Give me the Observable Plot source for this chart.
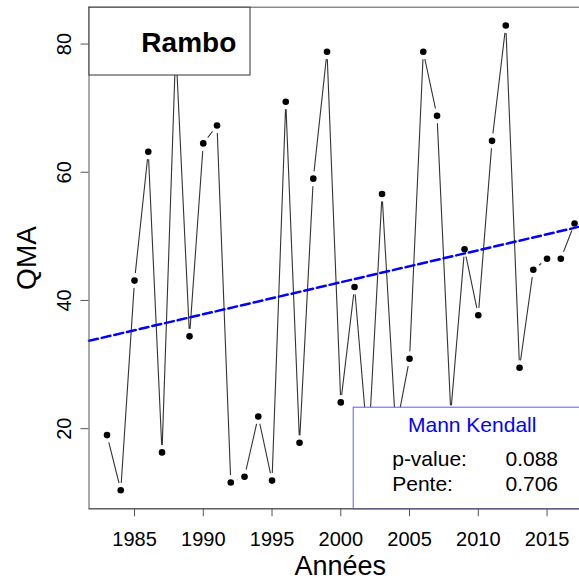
<!DOCTYPE html>
<html><head><meta charset="utf-8">
<script src="https://cdn.jsdelivr.net/npm/d3@7"></script>
<script src="https://cdn.jsdelivr.net/npm/@observablehq/plot@0.6"></script>
<style>html,body{margin:0;padding:0;background:#fff;overflow:hidden}</style>
</head><body><div id="chart"></div>
<script>
const years = [1983,1984,1985,1986,1987,1988,1989,1990,1991,1992,1993,1994,1995,1996,1997,1998,1999,2000,2001,2002,2003,2004,2005,2006,2007,2008,2009,2010,2011,2012,2013,2014,2015,2016,2017];
const qma = [19.0,10.4,43.1,63.2,16.3,79.5,34.4,64.5,67.3,11.6,12.5,21.9,11.9,71.0,17.8,59.0,78.8,24.1,42.1,16.6,56.6,19.7,30.9,78.8,68.8,22.5,48.0,37.7,64.9,82.9,29.5,44.8,46.5,46.5,52.0];
const xTicks = [1985,1990,1995,2000,2005,2010,2015];
const yTicks = [20,40,60,80];
const xLabel = "Années";
const yLabel = "QMA";
const stationName = "Rambo";
const mkTitle = "Mann Kendall";
const statNames = ["p-value:", "Pente:"];
const statValues = ["0.088", "0.706"];
const trendAt1983 = 34.36;
const trendSlope = 0.499;

const data = years.map((y, i) => ({year: y, q: qma[i]}));
const xDomain = [1981.69, 2017.36];
const yDomain = [7.5, 85.75];
const trend = xDomain.map(x => ({year: x, q: trendAt1983 + trendSlope * (x - 1983)}));
const frameColor = "#555";

const chart = Plot.plot({
  width: 579, height: 579,
  marginLeft: 88.5, marginRight: 0, marginTop: 6.7, marginBottom: 70.7,
  style: {fontFamily: "'Liberation Sans', Arial, sans-serif", background: "white", color: "black"},
  x: {domain: xDomain},
  y: {domain: yDomain},
  marks: [
    Plot.line(data, {x: "year", y: "q", stroke: "#333", strokeWidth: 1.1}),
    Plot.dot(data, {x: "year", y: "q", r: 7.5, fill: "white", stroke: "none"}),
    Plot.dot(data, {x: "year", y: "q", r: 3.3, fill: "black", stroke: "none"}),
    Plot.line(trend, {x: "year", y: "q", stroke: "blue", strokeWidth: 2.5, strokeDasharray: "9,4"}),
    Plot.ruleX([xDomain[0]], {stroke: frameColor}),
    Plot.ruleY(yDomain, {stroke: frameColor}),
    Plot.axisX({ticks: xTicks, tickSize: 8, fill: "none", stroke: frameColor, label: null}),
    Plot.axisY({ticks: yTicks, tickSize: 8, fill: "none", stroke: frameColor, label: null}),
    Plot.text(xTicks, {x: d => d, text: d => String(d), frameAnchor: "bottom", dy: 37, lineAnchor: "bottom", fontSize: 20, fill: "black"}),
    Plot.text(yTicks, {y: d => d, text: d => String(d), frameAnchor: "left", dx: -18.5, rotate: -90, textAnchor: "middle", lineAnchor: "bottom", fontSize: 20, fill: "black"}),
    Plot.text([xLabel], {text: d => d, frameAnchor: "bottom", dx: 6, dy: 65.7, lineAnchor: "bottom", fontSize: 27, fill: "black"}),
    Plot.text([yLabel], {text: d => d, frameAnchor: "left", dx: -53.5, rotate: -90, textAnchor: "middle", lineAnchor: "bottom", fontSize: 28, fill: "black"}),
    Plot.frame({fill: "white", stroke: "#333", insetRight: 329.5, insetBottom: 433.8}),
    Plot.text([stationName], {text: d => d, frameAnchor: "top-left", dx: 99.8, dy: 45, textAnchor: "middle", lineAnchor: "bottom", fontSize: 28, fontWeight: "bold", fill: "black"}),
    Plot.frame({fill: "white", stroke: "#5a5aff", insetLeft: 264.2, insetTop: 400, insetRight: -5, insetBottom: 0}),
    Plot.text([mkTitle], {text: d => d, frameAnchor: "top-left", dx: 383.2, dy: 425, textAnchor: "middle", lineAnchor: "bottom", fontSize: 21, fill: "blue"}),
    Plot.text([statNames[0]], {text: d => d, frameAnchor: "top-left", dx: 303.2, dy: 458.3, textAnchor: "start", lineAnchor: "bottom", fontSize: 21, fill: "black"}),
    Plot.text([statValues[0]], {text: d => d, frameAnchor: "top-left", dx: 416.5, dy: 458.3, textAnchor: "start", lineAnchor: "bottom", fontSize: 21, fill: "black"}),
    Plot.text([statNames[1]], {text: d => d, frameAnchor: "top-left", dx: 303.2, dy: 484, textAnchor: "start", lineAnchor: "bottom", fontSize: 21, fill: "black"}),
    Plot.text([statValues[1]], {text: d => d, frameAnchor: "top-left", dx: 416.5, dy: 484, textAnchor: "start", lineAnchor: "bottom", fontSize: 21, fill: "black"}),
    Plot.ruleY([yDomain[0]], {stroke: frameColor})
  ]
});
document.getElementById("chart").appendChild(chart);
</script>
</body></html>
